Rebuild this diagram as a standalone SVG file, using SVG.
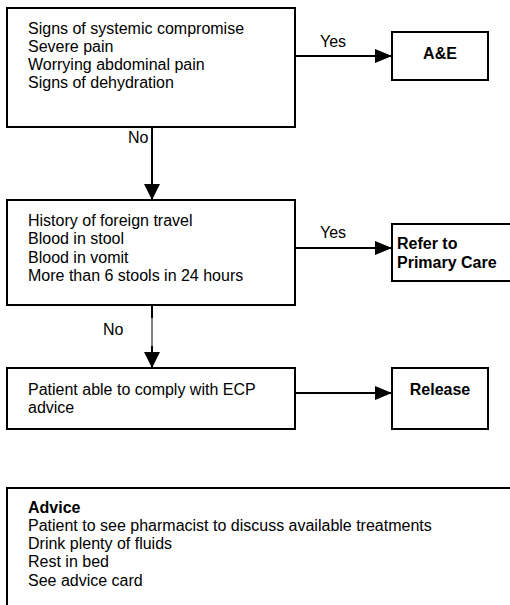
<svg xmlns="http://www.w3.org/2000/svg" width="510" height="605" viewBox="0 0 510 605">
<style>
.box{fill:#fff;stroke:#000;stroke-width:2}
.t{font-family:"Liberation Sans",Arial,sans-serif;font-size:16px;fill:#000}
.b{font-weight:bold}
.c{fill:none;stroke:#000;stroke-width:2}
.thin{fill:none;stroke:#000;stroke-width:1}
</style>
<defs>
<marker id="ah" markerWidth="17" markerHeight="14" refX="17" refY="7" orient="auto" markerUnits="userSpaceOnUse">
<path d="M0,0 L17,7 L0,14 Z" fill="#000"/>
</marker>
<marker id="av" markerWidth="16" markerHeight="16" refX="16" refY="8" orient="auto" markerUnits="userSpaceOnUse">
<path d="M0,0 L16,8 L0,16 Z" fill="#000"/>
</marker>
</defs>
<rect width="510" height="605" fill="#fff"/>
<g id="connectors">
<line class="c" x1="295" y1="56" x2="392" y2="56" marker-end="url(#ah)"/>
<line class="c" x1="152" y1="127" x2="152" y2="200" marker-end="url(#av)"/>
<line class="c" x1="295" y1="248" x2="392" y2="248" marker-end="url(#ah)"/>
<line class="c" x1="152" y1="305" x2="152" y2="318"/>
<line class="thin" x1="152" y1="318" x2="152" y2="346"/>
<line class="c" x1="152" y1="346" x2="152" y2="368" marker-end="url(#av)"/>
<line class="c" x1="295" y1="393" x2="392" y2="393" marker-end="url(#ah)"/>
<text class="t" x="320" y="47">Yes</text>
<text class="t" x="128" y="143">No</text>
<text class="t" x="320" y="238">Yes</text>
<text class="t" x="103" y="335">No</text>
</g>
<g id="n1">
<rect class="box" x="7" y="8" width="288" height="119"/>
<text class="t" x="28" y="34">Signs of systemic compromise</text>
<text class="t" x="28" y="52">Severe pain</text>
<text class="t" x="28" y="70">Worrying abdominal pain</text>
<text class="t" x="28" y="88">Signs of dehydration</text>
</g>
<g id="ae">
<rect class="box" x="392" y="32" width="96" height="48"/>
<text class="t b" x="440" y="59" text-anchor="middle">A&amp;E</text>
</g>
<g id="n2">
<rect class="box" x="7" y="200" width="288" height="105"/>
<text class="t" x="28" y="226">History of foreign travel</text>
<text class="t" x="28" y="244">Blood in stool</text>
<text class="t" x="28" y="263">Blood in vomit</text>
<text class="t" x="28" y="281">More than 6 stools in 24 hours</text>
</g>
<g id="refer">
<rect class="box" x="392" y="224" width="130" height="57"/>
<text class="t b" x="397" y="249">Refer to</text>
<text class="t b" x="397" y="268">Primary Care</text>
</g>
<g id="n3">
<rect class="box" x="7" y="368" width="288" height="61"/>
<text class="t" x="28" y="395">Patient able to comply with ECP</text>
<text class="t" x="28" y="413">advice</text>
</g>
<g id="release">
<rect class="box" x="392" y="368" width="96" height="61"/>
<text class="t b" x="440" y="395" text-anchor="middle">Release</text>
</g>
<g id="advice">
<rect class="box" x="7" y="488" width="520" height="130"/>
<text class="t b" x="28" y="513">Advice</text>
<text class="t" x="28" y="531">Patient to see pharmacist to discuss available treatments</text>
<text class="t" x="28" y="549">Drink plenty of fluids</text>
<text class="t" x="28" y="567">Rest in bed</text>
<text class="t" x="28" y="586">See advice card</text>
</g>
</svg>
